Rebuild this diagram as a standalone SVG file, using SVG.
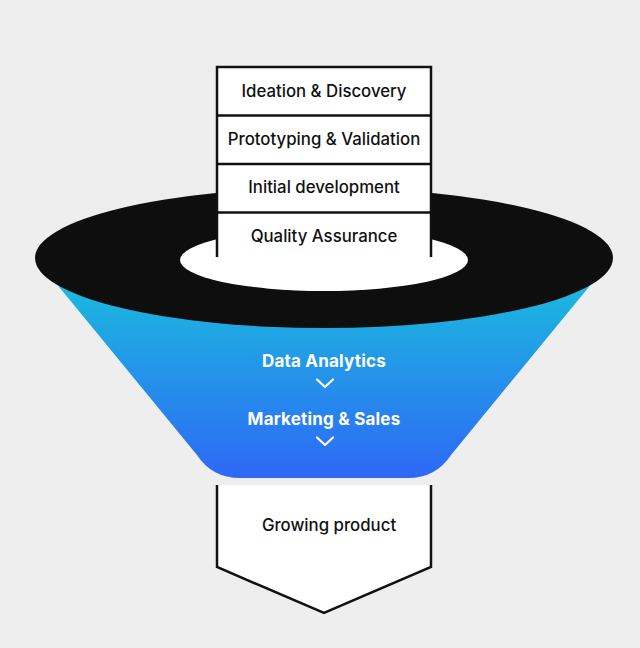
<svg xmlns="http://www.w3.org/2000/svg" width="640" height="648" viewBox="0 0 640 648">
  <defs>
    <linearGradient id="funnelGrad" x1="0" y1="285" x2="0" y2="478" gradientUnits="userSpaceOnUse">
      <stop offset="0" stop-color="#1BB9DF"/>
      <stop offset="1" stop-color="#2E68F6"/>
    </linearGradient>
    <style>
      .stage { font-family: Inter, "Liberation Sans", sans-serif; font-size: 16.8px; font-weight: 500; fill: #111111; text-anchor: middle; }
      .flow { font-family: Inter, "Liberation Sans", sans-serif; font-size: 17px; font-weight: 700; fill: #ffffff; text-anchor: middle; letter-spacing: 0.2px; }
      .box { fill: #ffffff; stroke: #111111; stroke-width: 2.5; }
      .chev { fill: none; stroke: #ffffff; stroke-width: 2.2; stroke-linecap: round; stroke-linejoin: round; }
    </style>
  </defs>
  <rect width="640" height="648" fill="#eeeeee"/>

  <g id="funnel">
    <path d="M46 271 L197 455 Q212 478 240 478 L408 478 Q436 478 451 455 L602 271 Z" fill="url(#funnelGrad)"/>
    <ellipse cx="324" cy="258" rx="289" ry="70" fill="#0e0e0e"/>
    <ellipse cx="324" cy="260" rx="144" ry="31" fill="#ffffff"/>
  </g>

  <g id="stack">
    <path d="M217 257 L217 67 L431 67 L431 257" class="box" fill="#ffffff"/>
    <line x1="217" y1="115.5" x2="431" y2="115.5" stroke="#111111" stroke-width="2.5"/>
    <line x1="217" y1="164" x2="431" y2="164" stroke="#111111" stroke-width="2.5"/>
    <line x1="217" y1="212.5" x2="431" y2="212.5" stroke="#111111" stroke-width="2.5"/>
  </g>
  <g id="ideation"><text class="stage" x="324" y="97">Ideation &amp; Discovery</text></g>
  <g id="prototyping"><text class="stage" x="324" y="145">Prototyping &amp; Validation</text></g>
  <g id="initial"><text class="stage" x="324" y="193">Initial development</text></g>
  <g id="qa"><text class="stage" x="324" y="242">Quality Assurance</text></g>

  <g id="analytics"><text class="flow" x="324" y="367">Data Analytics</text></g>
  <g id="marketing"><text class="flow" x="324" y="425">Marketing &amp; Sales</text></g>

  <g id="connectors">
    <polyline class="chev" points="317,379.5 325,387 333,379.5"/>
    <polyline class="chev" points="317,437.5 325,445 333,437.5"/>
  </g>

  <g id="growing">
    <path d="M217 485 L217 567 L324 613 L431 567 L431 485" fill="#ffffff" stroke="#111111" stroke-width="2.5" stroke-linejoin="miter"/>
    <text class="stage" x="329" y="531">Growing product</text>
  </g>
</svg>
